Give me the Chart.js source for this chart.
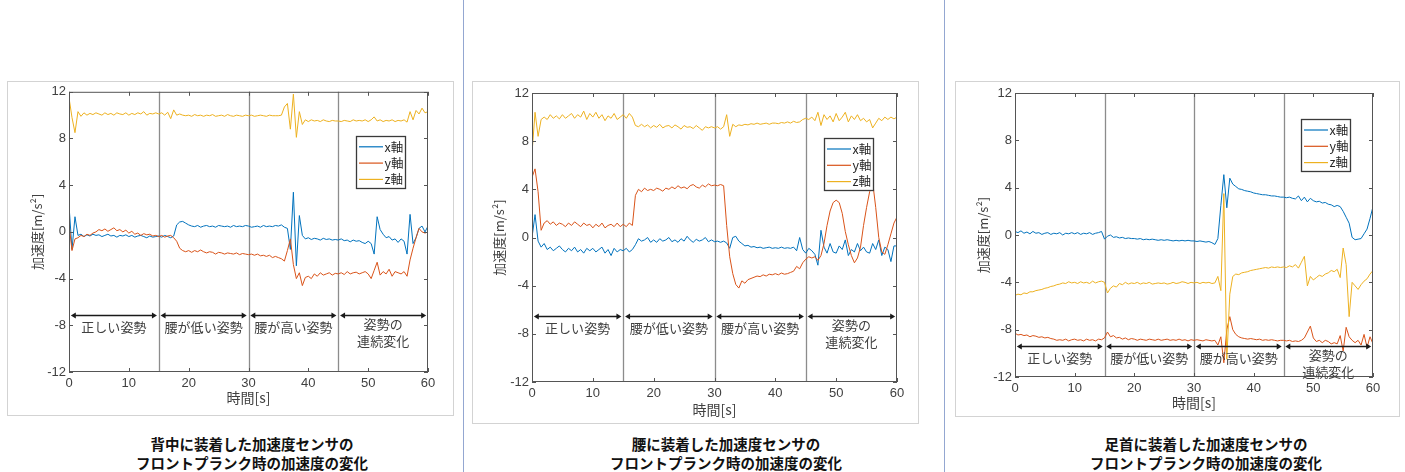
<!DOCTYPE html>
<html>
<head>
<meta charset="utf-8">
<script src="https://cdn.jsdelivr.net/npm/chart.js@4/dist/chart.umd.min.js"></script>
<style>
  body { margin: 0; width: 1405px; height: 472px; background: #fff; position: relative; overflow: hidden;
         font-family: "Noto Sans CJK JP", sans-serif; }
  .frame { position: absolute; border: 1px solid #d3d3d3; box-sizing: border-box; }
  canvas { position: absolute; }
  .sep { position: absolute; top: 0; width: 1px; height: 472px; background: #94a7d1; }
  .cap { position: absolute; top: 434px; width: 400px; text-align: center; font-weight: bold;
         font-size: 14.5px; line-height: 19px; color: #111; }
</style>
</head>
<body>
<div class="sep" style="left:463px"></div>
<div class="sep" style="left:944px"></div>

<div class="frame" style="left:7px;top:81px;width:447px;height:335px"></div>
<div class="frame" style="left:472px;top:81px;width:447px;height:343px"></div>
<div class="frame" style="left:955px;top:81px;width:445px;height:336px"></div>

<canvas id="back" width="446" height="334" style="left:7px;top:81px"></canvas>
<canvas id="waist" width="446" height="342" style="left:472px;top:81px"></canvas>
<canvas id="ankle" width="444" height="335" style="left:955px;top:81px"></canvas>

<div class="cap" style="left:52px">背中に装着した加速度センサの<br>フロントプランク時の加速度の変化</div>
<div class="cap" style="left:526px">腰に装着した加速度センサの<br>フロントプランク時の加速度の変化</div>
<div class="cap" style="left:1006px">足首に装着した加速度センサの<br>フロントプランク時の加速度の変化</div>

<script>
// sample times: 0 .. 60 s every 0.5 s (121 samples)
const TIME_STEP = 0.5;
const times = Array.from({ length: 121 }, (_, i) => i * TIME_STEP);

const seriesNames = ['x軸', 'y軸', 'z軸'];
const seriesColors = ['#0072BD', '#D95319', '#EDB120'];

const sectionEdges = [15, 30, 45];
const sectionSpans = [[0, 15], [15, 30], [30, 45], [45, 60]];
const sectionLabels = [['正しい姿勢'], ['腰が低い姿勢'], ['腰が高い姿勢'], ['姿勢の', '連続変化']];

// back sensor (背中)
const backX = [
  2.3,-1.5,1.3,-0.3,-0.2,-0.4,-0.25,-0.35,-0.2,-0.3,
  -0.25,-0.4,-0.3,-0.2,-0.35,-0.3,-0.45,-0.3,-0.35,-0.25,
  -0.4,-0.3,-0.45,-0.35,-0.3,-0.4,-0.5,-0.35,-0.45,-0.4,
  -0.35,-0.45,-0.3,-0.4,-0.5,-0.35,0.6,0.85,0.9,0.75,
  0.6,0.5,0.45,0.55,0.4,0.5,0.55,0.45,0.5,0.4,
  0.55,0.5,0.45,0.5,0.4,0.55,0.45,0.5,0.45,0.55,
  0.5,0.4,0.45,0.5,0.4,0.55,0.45,0.5,0.45,0.55,
  0.5,0.6,0.4,0.3,-1.5,3.4,-2.9,1.4,-0.3,-0.6,
  -0.5,-0.65,-0.55,-0.6,-0.7,-0.55,-0.65,-0.6,-0.7,-0.65,
  -0.7,-0.6,-0.75,-0.7,-0.85,-0.7,-0.8,-0.75,-0.9,-1.0,
  -0.8,-1.0,-1.9,1.3,0.2,-0.2,-0.5,-0.4,-0.7,-0.6,
  -0.9,-0.6,-0.8,-1.9,1.5,-1.0,-0.5,0.3,0.5,0.0,
  0.5];
const backY = [
  0.7,-1.6,-0.6,-0.5,-0.3,-0.4,-0.2,-0.3,-0.1,0.0,
  0.2,0.1,0.25,0.05,0.2,0.35,0.1,0.2,0.0,0.15,
  -0.1,0.05,-0.2,-0.1,-0.3,-0.15,-0.25,-0.2,-0.35,-0.3,
  -0.4,-0.3,-0.45,-0.35,-0.3,-0.5,-0.8,-1.4,-1.6,-1.7,
  -1.6,-1.75,-1.6,-1.7,-1.55,-1.7,-1.8,-1.7,-1.75,-1.9,
  -1.75,-1.8,-1.9,-1.8,-1.85,-1.9,-1.8,-1.95,-1.85,-1.9,
  -1.95,-1.9,-2.0,-1.9,-2.05,-2.0,-2.1,-2.0,-2.2,-2.1,
  -2.2,-2.3,-2.5,-1.6,-0.6,-2.8,-4.0,-3.5,-4.6,-3.9,
  -3.8,-4.0,-3.6,-3.8,-3.5,-3.7,-3.6,-3.5,-3.7,-3.55,
  -3.6,-3.5,-3.65,-3.4,-3.6,-3.5,-3.45,-3.6,-3.5,-3.4,
  -3.6,-4.0,-3.3,-2.6,-3.7,-3.4,-3.6,-3.2,-3.8,-3.4,
  -3.5,-3.6,-3.4,-3.8,-2.4,-1.4,-0.5,0.3,0.0,-0.1,
  0.0];
const backZ = [
  11.5,9.8,8.5,10.3,9.9,10.2,10.0,10.15,10.05,10.2,
  10.1,10.0,10.2,10.05,10.15,10.0,10.2,10.1,10.05,10.2,
  10.0,10.15,10.05,10.2,10.1,10.3,10.0,10.15,10.1,10.2,
  10.1,10.2,10.0,10.25,9.7,10.45,10.0,10.1,10.0,9.95,
  10.0,9.9,10.05,9.95,10.0,9.9,10.0,9.95,10.05,9.9,
  9.95,10.0,9.9,10.05,9.95,9.9,10.0,9.95,9.9,10.0,
  9.95,10.0,9.9,9.95,10.0,9.95,9.9,10.0,9.95,9.95,
  9.95,10.0,10.7,11.0,8.8,11.8,8.1,10.3,9.2,9.6,
  9.45,9.6,9.5,9.55,9.45,9.6,9.5,9.45,9.55,9.5,
  9.5,9.45,9.55,9.5,9.45,9.6,9.5,9.55,9.5,9.6,
  9.45,9.6,9.85,9.5,9.6,9.45,9.55,9.5,9.6,9.45,
  9.55,9.5,9.6,9.4,10.3,9.6,10.4,10.1,10.6,10.2,
  10.3];

// waist sensor (腰)
const waistX = [
  0.0,1.9,-0.3,-0.8,-0.5,-1.0,-0.8,-1.1,-0.9,-0.7,
  -1.0,-1.2,-0.9,-1.1,-0.8,-1.2,-1.0,-1.3,-0.9,-1.1,
  -0.9,-1.2,-1.0,-0.8,-1.3,-1.0,-1.5,-0.9,-1.2,-1.0,
  -1.1,-0.9,-1.2,-1.0,-0.6,-0.1,-0.3,-0.2,0.0,-0.4,
  -0.2,-0.4,-0.1,-0.3,-0.2,0.0,-0.35,-0.2,-0.4,-0.1,
  -0.3,0.1,-0.2,-0.4,-0.15,-0.3,-0.2,0.0,-0.35,-0.2,
  -0.35,-0.3,-0.4,-0.3,-0.45,-0.9,0.0,0.1,-0.3,-0.5,
  -0.7,-0.65,-0.8,-0.75,-0.85,-0.8,-0.9,-0.85,-0.8,-0.9,
  -0.85,-0.9,-0.8,-0.9,-0.85,-0.9,-0.8,-1.1,0.0,-1.0,
  -1.3,-0.9,-1.1,-1.4,-2.3,0.6,-0.8,-1.3,-0.5,-1.2,
  -1.3,-0.7,-1.0,-0.2,-1.5,-1.0,-1.2,-0.5,-1.1,-0.8,
  -1.2,-1.3,-0.5,-1.0,-0.2,-1.5,-0.8,-1.0,-2.0,-0.7,
  -0.7];
const waistY = [
  5.0,5.7,3.8,0.6,1.2,1.4,1.1,1.3,1.0,1.2,
  1.1,0.9,1.2,1.0,1.3,1.1,0.9,1.2,1.0,1.1,
  0.8,1.1,0.9,1.2,0.8,1.0,1.1,0.9,1.2,0.9,
  1.1,0.9,1.2,1.0,3.5,4.0,3.8,4.1,3.9,4.0,
  3.9,4.1,4.0,3.85,4.1,4.0,4.2,4.05,4.3,4.1,
  4.2,4.05,4.3,4.4,4.2,4.1,4.35,4.2,4.45,4.3,
  4.35,4.3,4.4,4.3,1.0,-1.6,-3.0,-3.9,-4.2,-3.6,
  -3.8,-3.5,-3.4,-3.3,-3.2,-3.25,-3.1,-3.2,-3.05,-3.1,
  -3.0,-3.1,-2.95,-3.05,-3.0,-2.9,-2.8,-2.4,-2.6,-2.1,
  -1.8,-1.6,-1.7,-1.6,-1.9,-1.5,-0.5,1.0,2.2,2.9,
  3.1,2.9,2.0,0.5,-0.6,-1.5,-2.1,-1.7,-0.8,1.0,
  2.5,3.8,4.6,2.5,0.0,-1.2,-1.4,-0.6,0.3,1.2,
  1.7];
const waistZ = [
  7.0,10.4,8.4,9.8,10.0,9.8,10.2,9.9,10.1,9.85,
  10.2,9.9,10.1,10.3,9.9,10.2,10.0,10.5,9.8,10.3,
  10.0,10.4,9.9,10.2,9.7,10.1,9.9,10.3,9.8,10.0,
  10.2,9.9,10.3,10.0,9.3,9.2,9.4,9.2,9.35,9.1,
  9.3,9.15,9.4,9.1,9.25,9.3,9.1,9.35,9.2,9.0,
  9.3,9.15,9.2,9.05,9.3,9.1,8.9,9.2,9.1,9.2,
  9.1,9.2,9.0,9.2,10.2,8.4,9.4,9.2,9.35,9.3,
  9.4,9.35,9.45,9.4,9.5,9.4,9.45,9.5,9.4,9.5,
  9.5,9.45,9.55,9.5,9.6,9.5,9.65,9.55,9.6,9.8,
  9.9,9.8,10.0,9.7,10.4,9.3,10.2,9.8,10.1,9.6,
  10.3,9.7,10.0,10.4,9.6,10.1,9.8,10.2,9.7,9.9,
  9.6,9.8,9.1,9.5,9.9,9.7,10.0,9.8,10.0,9.85,
  10.0];

// ankle sensor (足首)
const ankleX = [
  0.3,0.2,0.35,0.15,0.25,0.1,0.3,0.15,0.2,0.05,
  0.15,0.2,0.05,0.15,0.1,0.2,0.0,0.15,0.1,0.2,
  0.1,0.2,0.05,0.15,0.1,0.2,0.05,0.15,0.2,0.3,
  -0.35,-0.1,0.0,-0.2,-0.15,-0.25,-0.2,-0.3,-0.25,-0.3,
  -0.3,-0.35,-0.3,-0.4,-0.35,-0.4,-0.35,-0.4,-0.45,-0.4,
  -0.45,-0.4,-0.45,-0.5,-0.45,-0.5,-0.45,-0.5,-0.45,-0.5,
  -0.5,-0.55,-0.5,-0.55,-0.6,-0.55,-0.65,-0.8,-0.3,2.5,
  5.1,2.3,4.8,4.3,4.1,3.9,3.85,3.75,3.7,3.65,
  3.55,3.5,3.45,3.4,3.4,3.35,3.3,3.3,3.25,3.2,
  3.2,3.15,3.2,3.1,3.05,3.3,2.9,3.2,2.8,3.1,
  2.9,2.8,2.85,2.7,2.75,2.6,2.55,2.4,2.5,2.4,
  2.0,1.5,1.0,-0.2,-0.4,-0.35,-0.3,0.1,0.5,1.4,
  2.4];
const ankleY = [
  -8.3,-8.45,-8.4,-8.5,-8.45,-8.6,-8.5,-8.55,-8.65,-8.6,
  -8.7,-8.65,-8.75,-8.8,-8.9,-8.85,-8.9,-8.8,-8.95,-8.85,
  -8.8,-8.9,-8.85,-8.95,-8.8,-8.9,-8.85,-8.95,-8.8,-8.85,
  -8.7,-8.2,-8.6,-8.5,-8.7,-8.65,-8.8,-8.7,-8.85,-8.75,
  -8.8,-8.9,-8.8,-8.85,-8.9,-8.8,-8.85,-8.9,-8.8,-8.9,
  -8.85,-8.8,-8.9,-8.85,-8.9,-8.8,-8.9,-8.85,-8.95,-8.85,
  -8.9,-8.85,-8.9,-8.95,-8.85,-8.9,-8.95,-8.9,-9.3,-8.6,
  -10.8,-8.0,-6.9,-8.0,-8.4,-8.6,-8.7,-8.75,-8.8,-8.75,
  -8.8,-8.85,-8.8,-8.9,-8.85,-8.9,-8.85,-8.9,-8.95,-8.9,
  -8.9,-8.95,-8.9,-9.0,-8.95,-9.0,-8.9,-8.7,-8.2,-7.7,
  -8.7,-9.0,-8.9,-9.1,-8.9,-9.0,-9.2,-9.1,-9.2,-8.5,
  -9.8,-7.8,-8.6,-8.9,-9.1,-8.9,-9.3,-8.4,-9.5,-8.6,
  -9.2];
const ankleZ = [
  -5.1,-5.0,-5.05,-4.9,-4.95,-4.8,-4.8,-4.7,-4.65,-4.6,
  -4.5,-4.45,-4.35,-4.3,-4.2,-4.15,-4.05,-4.1,-3.95,-4.05,
  -4.0,-4.1,-3.95,-4.05,-4.0,-4.1,-3.9,-4.05,-3.95,-3.9,
  -4.0,-4.9,-4.5,-4.3,-4.4,-4.1,-4.2,-4.0,-4.15,-4.05,
  -4.1,-4.0,-4.15,-4.05,-4.1,-4.0,-4.15,-4.1,-4.05,-4.1,
  -4.05,-4.15,-4.1,-4.0,-4.1,-4.05,-3.95,-4.0,-4.1,-4.0,
  -4.05,-4.0,-4.1,-4.0,-4.05,-4.0,-4.1,-4.05,-3.5,-4.7,
  3.5,-10.5,-5.0,-3.5,-3.3,-3.35,-3.2,-3.15,-3.1,-3.0,
  -2.95,-2.9,-2.85,-2.8,-2.75,-2.8,-2.7,-2.75,-2.7,-2.75,
  -2.7,-2.75,-2.6,-2.7,-2.5,-2.8,-2.3,-1.8,-4.3,-3.5,
  -3.8,-3.6,-3.4,-3.5,-3.3,-3.2,-3.0,-3.1,-2.9,-3.6,
  -1.1,-2.5,-6.9,-4.0,-4.3,-4.6,-4.2,-3.9,-3.7,-3.3,
  -3.0];

const JP = '"Noto Sans CJK JP", sans-serif';
const NUM = '"Liberation Sans", Arial, sans-serif';
const TEXT = '#404040';

// draws section lines, axis box with inward ticks, arrows, labels and the boxed legend
const decor = {
  id: 'decor',
  beforeDatasetsDraw(chart) {
    const { ctx, chartArea: a, scales: { x } } = chart;
    ctx.save();
    ctx.strokeStyle = '#8c8c8c';
    ctx.lineWidth = 1.3;
    sectionEdges.forEach(v => {
      const px = Math.round(x.getPixelForValue(v)) + 0.5;
      ctx.beginPath(); ctx.moveTo(px, a.top); ctx.lineTo(px, a.bottom); ctx.stroke();
    });
    ctx.restore();
  },
  afterDatasetsDraw(chart, args, opts) {
    const { ctx, chartArea: a, scales: { x, y } } = chart;
    ctx.save();

    // axis box + inward ticks
    ctx.strokeStyle = '#555';
    ctx.lineWidth = 1;
    ctx.strokeRect(a.left + 0.5, a.top + 0.5, a.right - a.left - 1, a.bottom - a.top - 1);
    ctx.beginPath();
    x.ticks.forEach(t => {
      const px = Math.round(x.getPixelForValue(t.value)) + 0.5;
      ctx.moveTo(px, a.bottom); ctx.lineTo(px, a.bottom - 4);
      ctx.moveTo(px, a.top); ctx.lineTo(px, a.top + 4);
    });
    y.ticks.forEach(t => {
      const py = Math.round(y.getPixelForValue(t.value)) + 0.5;
      ctx.moveTo(a.left, py); ctx.lineTo(a.left + 4, py);
      ctx.moveTo(a.right, py); ctx.lineTo(a.right - 4, py);
    });
    ctx.stroke();

    // section arrows
    const ay = Math.round(y.getPixelForValue(opts.arrowY)) + 0.5;
    ctx.strokeStyle = '#1a1a1a';
    ctx.fillStyle = '#1a1a1a';
    ctx.lineWidth = 1.6;
    sectionSpans.forEach(([s, e]) => {
      const x0 = x.getPixelForValue(s + 0.3), x1 = x.getPixelForValue(e - 0.3);
      ctx.beginPath(); ctx.moveTo(x0 + 3, ay); ctx.lineTo(x1 - 3, ay); ctx.stroke();
      ctx.beginPath(); ctx.moveTo(x0, ay); ctx.lineTo(x0 + 5, ay - 3); ctx.lineTo(x0 + 5, ay + 3); ctx.closePath(); ctx.fill();
      ctx.beginPath(); ctx.moveTo(x1, ay); ctx.lineTo(x1 - 5, ay - 3); ctx.lineTo(x1 - 5, ay + 3); ctx.closePath(); ctx.fill();
    });

    // section labels
    ctx.fillStyle = TEXT;
    ctx.font = '13px ' + JP;
    ctx.textAlign = 'center';
    ctx.textBaseline = 'middle';
    sectionSpans.forEach(([s, e], i) => {
      const cx = x.getPixelForValue((s + e) / 2);
      const lines = sectionLabels[i];
      if (lines.length === 1) {
        ctx.fillText(lines[0], cx, ay + 12);
      } else {
        ctx.fillText(lines[0], cx, ay + 9);
        ctx.fillText(lines[1], cx, ay + 26);
      }
    });

    // legend box
    const w = 49, h = 52;
    const lx = a.right - opts.legendRight - w;
    const ly = a.top + opts.legendTop;
    ctx.fillStyle = '#fff';
    ctx.fillRect(lx, ly, w, h);
    ctx.strokeStyle = '#3a3a3a';
    ctx.lineWidth = 1.3;
    ctx.strokeRect(Math.round(lx) + 0.5, Math.round(ly) + 0.5, w, h);
    ctx.textAlign = 'left';
    ctx.font = '12.5px ' + JP;
    seriesNames.forEach((name, k) => {
      const ey = ly + 11 + k * 16.3;
      ctx.strokeStyle = seriesColors[k];
      ctx.lineWidth = 1.2;
      ctx.beginPath(); ctx.moveTo(lx + 3, ey); ctx.lineTo(lx + 27, ey); ctx.stroke();
      ctx.fillStyle = '#262626';
      ctx.fillText(name, lx + 28.5, ey);
    });
    ctx.restore();
  }
};

function makeChart(id, series, geo) {
  return new Chart(document.getElementById(id), {
    type: 'line',
    data: {
      datasets: series.map((vals, k) => ({
        label: seriesNames[k],
        data: times.map((t, i) => ({ x: t, y: vals[i] })),
        borderColor: seriesColors[k],
        borderWidth: 1,
        pointRadius: 0,
        tension: 0,
        order: 3 - k
      }))
    },
    options: {
      responsive: false,
      animation: false,
      events: [],
      layout: { padding: { left: 0, top: geo.top, right: geo.right, bottom: 0 } },
      plugins: {
        legend: { display: false },
        tooltip: { enabled: false },
        decor: { arrowY: geo.arrowY, legendRight: geo.legendRight, legendTop: geo.legendTop }
      },
      scales: {
        x: {
          type: 'linear', min: 0, max: 60,
          grid: { display: false, drawTicks: false },
          border: { display: false },
          ticks: { stepSize: 10, padding: 4, maxRotation: 0, color: TEXT, font: { family: NUM, size: 13 } },
          title: { display: true, text: '時間[s]', color: TEXT, font: { family: JP, size: 14 },
                   padding: { top: 0, bottom: geo.xTitlePad } },
          afterFit: s => { s.height = geo.xh; }
        },
        y: {
          type: 'linear', min: -12, max: 12,
          grid: { display: false, drawTicks: false },
          border: { display: false },
          ticks: { stepSize: 4, padding: 3, color: TEXT, font: { family: NUM, size: 13 } },
          title: { display: true, text: '加速度[m/s²]', color: TEXT, font: { family: JP, size: 13 },
                   padding: { top: geo.yTitlePad, bottom: 0 } },
          afterFit: s => { s.width = geo.yw; }
        }
      }
    },
    plugins: [decor]
  });
}

makeChart('back', [backX, backY, backZ],
  { top: 9, right: 25, yw: 62, xh: 43, xTitlePad: 8.6, yTitlePad: 22.7, arrowY: -7.15, legendRight: 23, legendTop: 44 });
makeChart('waist', [waistX, waistY, waistZ],
  { top: 12, right: 21, yw: 60, xh: 41, xTitlePad: 4.6, yTitlePad: 19, arrowY: -6.5, legendRight: 24, legendTop: 45 });
makeChart('ankle', [ankleX, ankleY, ankleZ],
  { top: 12, right: 26, yw: 60, xh: 39, xTitlePad: 4.6, yTitlePad: 20.7, arrowY: -9.4, legendRight: 23, legendTop: 26 });
</script>
</body>
</html>
